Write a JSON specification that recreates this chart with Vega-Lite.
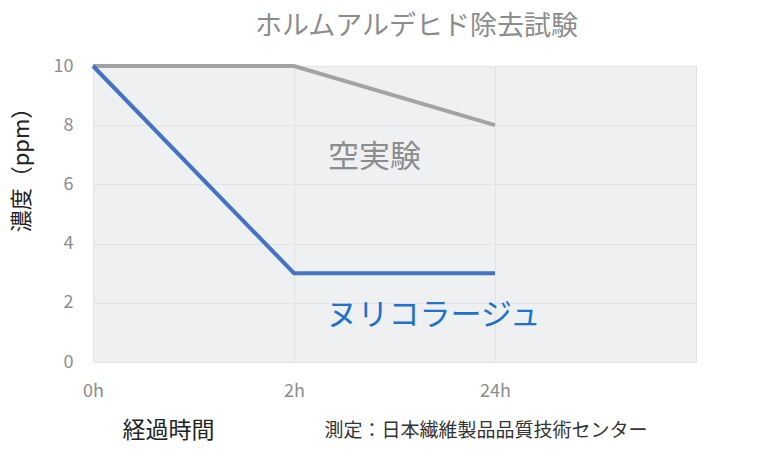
{
  "$schema": "https://vega.github.io/schema/vega-lite/v6.json",
  "width": 603,
  "height": 296,
  "autosize": {"type": "none"},
  "padding": {"left": 93, "top": 66, "right": 70, "bottom": 100},
  "background": "white",
  "config": {
    "font": "Noto Sans CJK JP",
    "view": {"fill": "#eff0f2", "stroke": null}
  },
  "title": {
    "text": "ホルムアルデヒド除去試験",
    "fontSize": 27,
    "fontWeight": "normal",
    "color": "#8c8c8c",
    "anchor": "middle",
    "dx": 22,
    "offset": 16
  },
  "datasets": {
    "series": [
      {"step": 0, "time": "0h", "group": "空実験", "ppm": 10},
      {"step": 1, "time": "2h", "group": "空実験", "ppm": 10},
      {"step": 2, "time": "24h", "group": "空実験", "ppm": 8},
      {"step": 0, "time": "0h", "group": "ヌリコラージュ", "ppm": 10},
      {"step": 1, "time": "2h", "group": "ヌリコラージュ", "ppm": 3},
      {"step": 2, "time": "24h", "group": "ヌリコラージュ", "ppm": 3}
    ],
    "labels": [
      {"step": 1.4, "ppm": 6.9, "group": "空実験"},
      {"step": 1.695, "ppm": 1.55, "group": "ヌリコラージュ"}
    ]
  },
  "layer": [
    {
      "data": {"name": "series"},
      "mark": {"type": "line", "strokeWidth": 4, "strokeCap": "butt"},
      "encoding": {
        "x": {
          "field": "step",
          "type": "quantitative",
          "scale": {"domain": [0, 3], "nice": false},
          "axis": {
            "orient": "bottom",
            "values": [0, 1, 2, 3],
            "labelExpr": "['0h','2h','24h',''][datum.value]",
            "labelFlush": false,
            "labelFontSize": 18,
            "labelColor": "#8c8c8c",
            "labelPadding": 20,
            "ticks": false,
            "domain": false,
            "grid": true,
            "gridColor": "#e2e3e6",
            "title": "経過時間",
            "titleFontSize": 23,
            "titleFontWeight": "normal",
            "titleColor": "#222222",
            "titleAnchor": "start",
            "titleAlign": "center",
            "titleBaseline": "middle",
            "titleX": 75,
            "titleY": 68
          }
        },
        "y": {
          "field": "ppm",
          "type": "quantitative",
          "scale": {"domain": [0, 10], "nice": false},
          "axis": {
            "values": [0, 2, 4, 6, 8, 10],
            "labelFontSize": 18,
            "labelColor": "#8c8c8c",
            "labelPadding": 20,
            "ticks": false,
            "domain": false,
            "gridColor": "#e2e3e6",
            "title": "濃度（ppm）",
            "titleFontSize": 22,
            "titleFontWeight": "normal",
            "titleColor": "#222222",
            "titleAnchor": "middle",
            "titleBaseline": "middle",
            "titleX": -72,
            "titleY": 98
          }
        },
        "color": {
          "field": "group",
          "type": "nominal",
          "scale": {"domain": ["空実験", "ヌリコラージュ"], "range": ["#a3a3a3", "#4472c4"]},
          "legend": null
        }
      }
    },
    {
      "data": {"name": "labels"},
      "mark": {"type": "text", "fontSize": 31, "align": "center", "baseline": "middle"},
      "encoding": {
        "x": {
          "field": "step",
          "type": "quantitative",
          "scale": {"domain": [0, 3], "nice": false},
          "axis": {
            "orient": "bottom",
            "labels": false,
            "ticks": false,
            "domain": false,
            "grid": false,
            "title": "測定：日本繊維製品品質技術センター",
            "titleFontSize": 19,
            "titleFontWeight": "normal",
            "titleColor": "#333333",
            "titleAnchor": "start",
            "titleAlign": "left",
            "titleBaseline": "middle",
            "titleX": 231,
            "titleY": 68
          }
        },
        "y": {"field": "ppm", "type": "quantitative", "scale": {"domain": [0, 10], "nice": false}},
        "text": {"field": "group"},
        "color": {
          "field": "group",
          "type": "nominal",
          "scale": {"domain": ["空実験", "ヌリコラージュ"], "range": ["#8c8c8c", "#1f72c9"]},
          "legend": null
        }
      }
    }
  ],
  "resolve": {"scale": {"x": "independent", "color": "independent"}}
}
